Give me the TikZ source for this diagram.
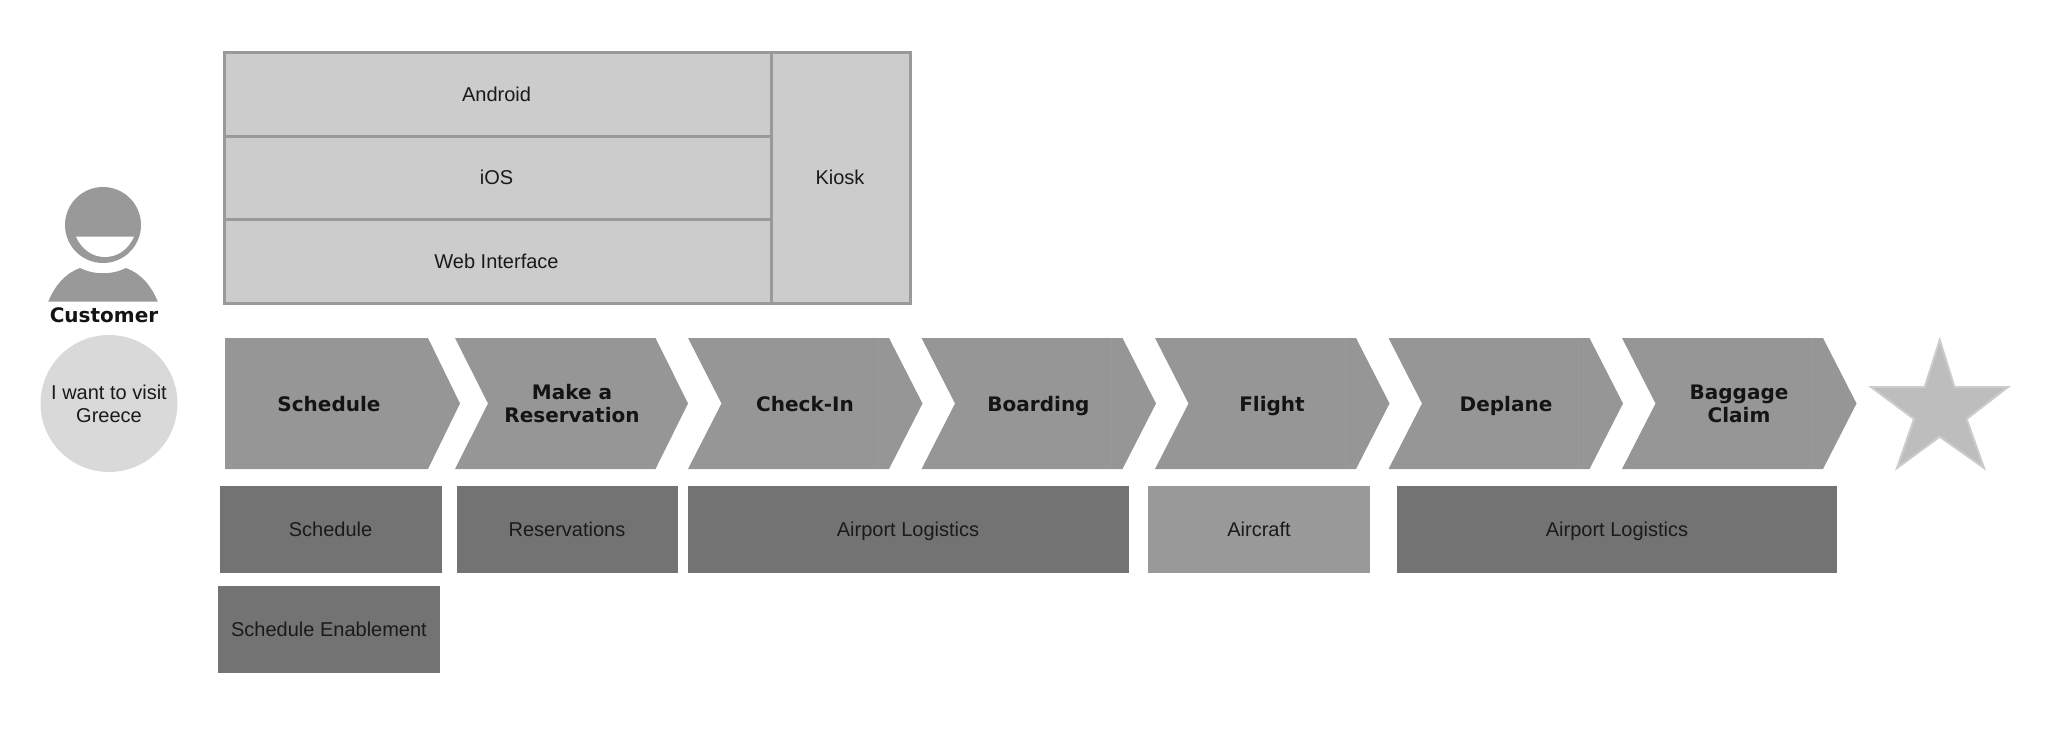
\documentclass[tikz,border=0pt]{standalone}
\usepackage{fontspec}
\setmainfont{Liberation Sans}
\newfontfamily\boldlabel{DejaVu Sans Bold}
\definecolor{ink}{HTML}{1A1A1A}
\definecolor{chevfill}{HTML}{969696}
\definecolor{chevline}{HTML}{9A9A9A}
\definecolor{darkbox}{HTML}{737373}
\definecolor{midbox}{HTML}{999999}
\definecolor{lightbox}{HTML}{CCCCCC}
\definecolor{edgegray}{HTML}{999999}
\definecolor{wishfill}{HTML}{D9D9D9}
\definecolor{starfill}{HTML}{BDBDBD}
\definecolor{staredge}{HTML}{CCCCCC}
\tikzset{
  txt/.style={font=\fontsize{10}{11.5}\selectfont,text=ink,align=center,inner sep=0pt},
  btxt/.style={font=\boldlabel\fontsize{10}{11.5}\selectfont,text=black!92,align=center,inner sep=0pt},
  oneline/.style={text height=7.2pt,text depth=0pt},
  boneline/.style={text height=7.6pt,text depth=0pt},
  panel/.style={fill=lightbox,draw=edgegray,line width=1.5pt},
  dbox/.style={fill=darkbox},
  mbox/.style={fill=midbox},
  chevshape/.style={fill=chevfill},
  person/.style={fill=edgegray}
}
\newcommand{\chevronstep}[4]{% left x, label x, label style, label
  \fill[chevshape] (#1,338) -- ({#1+201},338) -- ({#1+234.5},403.5) -- ({#1+201},469) -- (#1,469) -- ({#1+33.5},403.5) -- cycle;
  \draw[chevline,line width=0.4pt] ({#1+190},338) -- ({#1+190},469);
  \node[btxt,#3] at (#2,403.5) {#4};
}
\begin{document}
\begin{tikzpicture}[x=0.5pt,y=-0.5pt]
\useasboundingbox (0,0) rectangle (2048,738);
% channel panel
\path[panel] (224.5,52.5) rectangle (771,136);
\path[panel] (224.5,136) rectangle (771,219.5);
\path[panel] (224.5,219.5) rectangle (771,303.5);
\path[panel] (771,52.5) rectangle (910,303.5);
\node[txt,oneline] (android) at (496.5,94) {Android};
\node[txt,oneline] (ios) at (496.5,177.5) {iOS};
\node[txt,oneline] (web) at (496.5,261) {Web Interface};
\node[txt,oneline] (kiosk) at (840,177.5) {Kiosk};
% customer icon
\fill[person] (103,225) circle [radius=38];
\fill[white] (76,236.7) -- (134,236.7) .. controls (128,250) and (117,257) .. (105,257) .. controls (93,257) and (82,250) .. (76,236.7) -- cycle;
\fill[person] (48.3,301.5) .. controls (55,285) and (66,273) .. (80,268) .. controls (94,275) and (112,275) .. (126,268) .. controls (140,273) and (151,285) .. (157.7,301.5) -- cycle;
\node[btxt] (customer) at (104,315) {Customer};
\node[circle,fill=wishfill,minimum size=137pt*0.5,inner sep=0pt] (wishbg) at (109,403.5) {};
\node[txt] (wish) at (109,403.5) {I want to visit\\Greece};
% chevrons
\fill[chevshape] (225,338) -- (428,338) -- (460,403.5) -- (428,469) -- (225,469) -- cycle;
\node[btxt,boneline] (s1) at (329,403.5) {Schedule};
\fill[chevshape] (455,338) -- (655.5,338) -- (688,403.5) -- (655.5,469) -- (455,469) -- (488,403.5) -- cycle;
\node[btxt] (s2) at (572,403.5) {Make a\\Reservation};
\chevronstep{688}{805}{boneline}{Check-In}
\chevronstep{921.5}{1038.5}{boneline}{Boarding}
\chevronstep{1155}{1272}{boneline}{Flight}
\chevronstep{1388.5}{1506}{boneline}{Deplane}
\chevronstep{1622}{1739}{}{Baggage\\Claim}
% star
\fill[starfill,draw=staredge,line width=1pt,line join=miter] (1939.7,340) -- (1954.5,387) -- (2008,387) -- (1966.6,419) -- (1984,468) -- (1939.7,436.7) -- (1897,468) -- (1914,419) -- (1871,387) -- (1924.7,387) -- cycle;
% capability boxes
\path[dbox] (220,485.5) rectangle (441.5,572.5);
\path[dbox] (456.5,485.5) rectangle (678,572.5);
\path[dbox] (688,485.5) rectangle (1128.5,572.5);
\path[mbox] (1148,485.5) rectangle (1370,572.5);
\path[dbox] (1397,485.5) rectangle (1837,572.5);
\path[dbox] (218,586) rectangle (440,672.5);
\node[txt,oneline] (b1) at (330.5,529) {Schedule};
\node[txt,oneline] (b2) at (567,529) {Reservations};
\node[txt,oneline] (b3) at (908,529) {Airport Logistics};
\node[txt,oneline] (b4) at (1259,529) {Aircraft};
\node[txt,oneline] (b5) at (1617,529) {Airport Logistics};
\node[txt,oneline] (b6) at (329,629) {Schedule Enablement};
\end{tikzpicture}
\end{document}
